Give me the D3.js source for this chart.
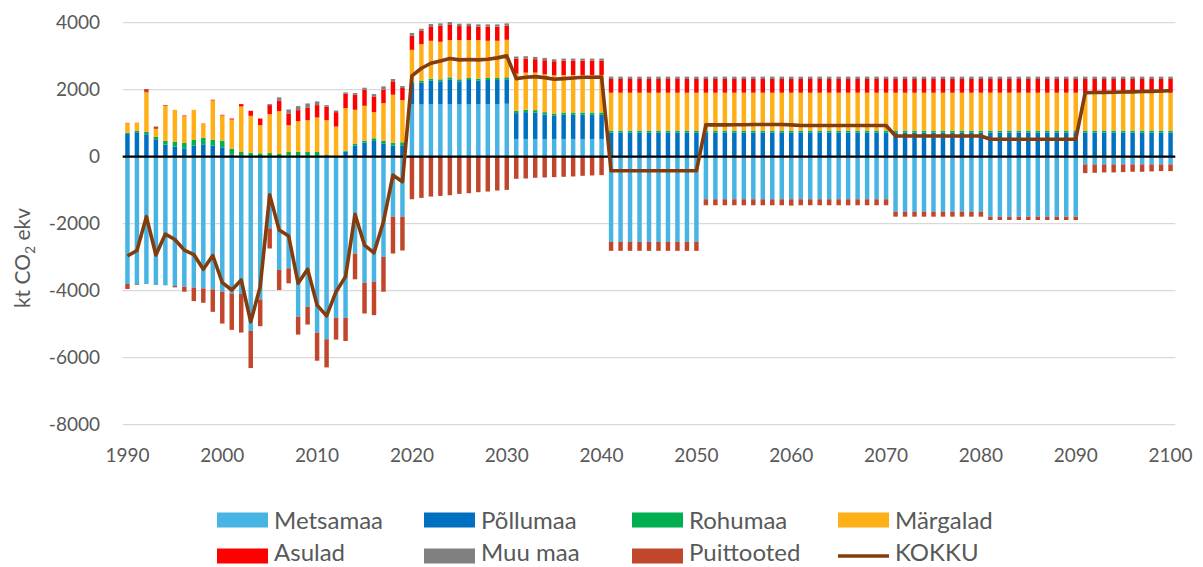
<!DOCTYPE html>
<html><head><meta charset="utf-8">
<script src="https://cdn.jsdelivr.net/npm/d3@7"></script>
<style>
body{margin:0;background:#fff}
svg{display:block}
text{font-family:Lato,"Open Sans",sans-serif;fill:#595959}
</style>
</head><body>
<svg id="chart" width="1203" height="567"></svg>
<script>
// ---- DATA (kt CO2 ekv), years 1990..2100 ----
const years = d3.range(1990, 2101);
const xTickYears = [1990,2000,2010,2020,2030,2040,2050,2060,2070,2080,2090,2100];
const yTickValues = [-8000,-6000,-4000,-2000,0,2000,4000];
const yTickLabels = ["-8000","-6000","-4000","-2000","0","2000","4000"];
const seriesNames = ["Metsamaa","Põllumaa","Rohumaa","Märgalad","Asulad","Muu maa","Puittooted"];
const lineName = "KOKKU";

const metsamaa = [
 -3800,-3810,-3800,-3830,-3840,-3860,-3880,-3910,-3930,-3960,
 -4030,-4080,-4100,-5200,-4260,-2140,-3380,-3330,-4780,-4480,
 -5250,-5450,-4810,-4810,-2890,-3760,-3730,-2990,-1790,-1790,
 1560,1560,1560,1560,1560,1560,1560,1560,1560,1560,
 1580,530,530,530,530,530,530,530,530,530,
 530,-2540,-2540,-2540,-2540,-2540,-2540,-2540,-2540,-2540,
 -2540,-1270,-1270,-1270,-1270,-1270,-1270,-1270,-1270,-1270,
 -1270,-1270,-1270,-1270,-1270,-1270,-1270,-1270,-1270,-1270,
 -1270,-1640,-1640,-1640,-1640,-1640,-1640,-1640,-1640,-1640,
 -1640,-1790,-1790,-1790,-1790,-1790,-1790,-1790,-1790,-1790,
 -1790,-230,-230,-230,-230,-230,-230,-230,-230,-230,
 -230];
const pollumaa = [
 680,730,670,520,360,300,250,330,370,330,
 280,60,40,20,10,10,10,30,10,10,
 10,10,10,150,330,420,470,400,330,340,
 630,650,710,690,750,690,730,710,730,730,
 730,770,800,790,730,690,720,720,720,720,
 720,720,720,720,720,720,720,720,720,720,
 720,720,720,720,720,720,720,720,720,720,
 720,720,720,720,720,720,720,720,720,720,
 720,720,720,720,720,720,720,720,720,720,
 720,720,720,720,720,720,720,720,720,720,
 720,720,720,720,720,720,720,720,720,720,
 720];
const rohumaa = [
 40,40,70,70,110,150,160,170,190,170,
 200,180,100,100,90,100,70,110,140,130,
 130,40,10,30,50,60,80,80,90,90,
 50,50,60,60,60,60,60,60,60,60,
 60,70,70,70,70,70,70,70,70,70,
 70,60,60,60,60,60,60,60,60,60,
 60,60,60,60,60,60,60,60,60,60,
 60,60,60,60,60,60,60,60,60,60,
 60,60,60,60,60,60,60,60,60,60,
 60,60,60,60,60,60,60,60,60,60,
 60,60,60,60,60,60,60,60,60,60,
 60];
const margalad = [
 280,250,1180,240,1050,950,800,900,420,1180,
 750,870,1360,1100,840,1160,1280,800,910,950,
 1030,1040,880,1270,1020,1040,780,1120,1430,1260,
 950,1100,1130,1120,1110,1170,1130,1150,1110,1110,
 1120,1110,1110,1120,1130,1140,1120,1120,1120,1120,
 1120,1130,1130,1130,1130,1130,1130,1130,1130,1130,
 1130,1130,1130,1130,1130,1130,1130,1130,1130,1130,
 1130,1130,1130,1130,1130,1130,1130,1130,1130,1130,
 1130,1130,1130,1130,1130,1130,1130,1130,1130,1130,
 1130,1130,1130,1130,1130,1130,1130,1130,1130,1130,
 1130,1130,1130,1130,1130,1130,1130,1130,1130,1130,
 1130];
const asulad = [
 10,0,0,0,20,0,20,0,10,20,
 20,30,70,150,200,270,310,350,330,370,
 370,400,430,430,450,480,470,400,400,360,
 420,400,430,480,470,420,420,400,420,420,
 420,440,420,400,420,420,430,430,430,430,
 430,410,410,410,410,410,410,410,410,410,
 410,410,410,410,410,410,410,410,410,410,
 410,410,410,410,410,410,410,410,410,410,
 410,410,410,410,410,410,410,410,410,410,
 410,410,410,410,410,410,410,410,410,410,
 410,410,410,410,410,410,410,410,410,410,
 410];
const muuMaa = [
 0,0,0,0,0,0,0,0,0,0,
 0,0,0,0,0,30,100,120,120,130,
 110,50,50,40,50,60,70,100,70,60,
 80,60,70,70,70,70,70,70,70,70,
 70,70,70,70,70,60,60,60,60,60,
 60,70,70,70,70,70,70,70,70,70,
 70,70,70,70,70,70,70,70,70,70,
 70,70,70,70,70,70,70,70,70,70,
 70,70,70,70,70,70,70,70,70,70,
 70,70,70,70,70,70,70,70,70,70,
 70,70,70,70,70,70,70,70,70,70,
 70];
const puittooted = [
 -150,-20,100,70,0,-40,-150,-400,-430,-670,
 -950,-1090,-1150,-1110,-800,-600,-600,-450,-530,-530,
 -840,-840,-650,-690,-770,-920,-1000,-1040,-1100,-1010,
 -1270,-1230,-1190,-1170,-1150,-1110,-1090,-1060,-1040,-1010,
 -990,-660,-650,-630,-620,-610,-600,-590,-570,-560,
 -550,-270,-270,-270,-270,-270,-270,-270,-270,-270,
 -270,-180,-180,-180,-180,-180,-180,-180,-180,-180,
 -190,-180,-180,-180,-180,-180,-180,-180,-180,-180,
 -180,-150,-150,-150,-150,-150,-150,-150,-150,-150,
 -150,-100,-100,-100,-100,-100,-100,-100,-100,-100,
 -100,-260,-250,-240,-240,-230,-220,-220,-210,-200,
 -200];
const kokku = [
 -2965,-2800,-1790,-2935,-2310,-2470,-2790,-2920,-3360,-2950,
 -3760,-3980,-3680,-4930,-3880,-1140,-2190,-2370,-3780,-3360,
 -4430,-4750,-4030,-3580,-1720,-2640,-2870,-1940,-550,-750,
 2410,2640,2790,2860,2930,2890,2900,2890,2910,2950,
 3010,2330,2370,2390,2360,2310,2330,2350,2370,2370,
 2380,-420,-420,-420,-420,-420,-420,-420,-420,-420,
 -420,950,950,950,955,955,960,960,960,960,
 950,930,930,930,930,930,930,930,930,930,
 930,620,620,620,620,620,620,620,620,620,
 620,520,520,520,520,520,520,520,520,520,
 520,1910,1915,1920,1925,1930,1935,1945,1950,1960,
 1970];

const colors = ["#47B4E4","#0070C0","#00B050","#FFB016","#FF0000","#808080","#C0462C"];
const lineColor = "#843C0C";

// ---- build table ----
const seriesArrays = [metsamaa,pollumaa,rohumaa,margalad,asulad,muuMaa,puittooted];
const table = years.map((yr,i)=>{
  const row = {year: yr};
  seriesNames.forEach((n,k)=> row[n] = seriesArrays[k][i]);
  return row;
});

const svg = d3.select("#chart");
const pLeft = 122.7, pRight = 1175.3, pTop = 22.7, pBottom = 424.7;

const x = d3.scaleBand().domain(years).range([pLeft,pRight]).paddingInner(0.53).paddingOuter(0.265);
const y = d3.scaleLinear().domain([-8000,4000]).range([pBottom,pTop]);

// gridlines
svg.append("g").selectAll("line")
  .data(yTickValues.filter(v=>v!==0))
  .join("line")
  .attr("x1",pLeft).attr("x2",pRight)
  .attr("y1",d=>y(d)).attr("y2",d=>y(d))
  .attr("stroke","#D9D9D9").attr("stroke-width",1.3);

// stacked bars
const stack = d3.stack().keys(seriesNames).offset(d3.stackOffsetDiverging);
const layers = stack(table);
svg.append("g").selectAll("g")
  .data(layers)
  .join("g")
  .attr("fill",(d,i)=>colors[i])
  .selectAll("rect")
  .data(d=>d)
  .join("rect")
  .attr("x",d=>x(d.data.year))
  .attr("width",x.bandwidth())
  .attr("y",d=>y(Math.max(d[0],d[1])))
  .attr("height",d=>Math.abs(y(d[0])-y(d[1])));

// zero axis line
svg.append("line")
  .attr("x1",pLeft).attr("x2",pRight)
  .attr("y1",y(0)).attr("y2",y(0))
  .attr("stroke","#000").attr("stroke-width",2.2);

// KOKKU line
const line = d3.line()
  .x((d,i)=>x(years[i]) + x.bandwidth()/2)
  .y(d=>y(d));
svg.append("path")
  .datum(kokku)
  .attr("d",line)
  .attr("fill","none")
  .attr("stroke",lineColor)
  .attr("stroke-width",3.6)
  .attr("stroke-linejoin","round");

// y axis labels
svg.append("g").selectAll("text")
  .data(yTickValues)
  .join("text")
  .attr("x",100).attr("y",d=>y(d))
  .attr("dy","0.35em")
  .attr("text-anchor","end")
  .style("font-size","19px")
  .text((d,i)=>yTickLabels[i]);

// x axis labels
svg.append("g").selectAll("text")
  .data(xTickYears)
  .join("text")
  .attr("x",d=>x(d)+x.bandwidth()/2)
  .attr("y",462)
  .attr("text-anchor","middle")
  .style("font-size","19px")
  .text(d=>d);

// y axis title
const yt = svg.append("text")
  .attr("transform","translate(30,258) rotate(-90)")
  .attr("text-anchor","middle")
  .style("font-size","21px");
yt.append("tspan").text("kt CO");
yt.append("tspan").attr("dy","5").style("font-size","14px").text("2");
yt.append("tspan").attr("dy","-5").text(" ekv");

// legend
const legendItems = seriesNames.map((n,i)=>({name:n,color:colors[i],type:"rect"}))
  .concat([{name:lineName,color:lineColor,type:"line"}]);
const colX = [217,424,632,838];
const rowY = [520,556];
const textBase = [528.5,561];
const lg = svg.append("g").selectAll("g")
  .data(legendItems)
  .join("g")
  .attr("transform",(d,i)=>`translate(${colX[i%4]},0)`);
lg.filter(d=>d.type==="rect").append("rect")
  .attr("x",0).attr("y",(d,i)=>rowY[Math.floor(legendItems.indexOf(d)/4)]-7.5)
  .attr("width",51).attr("height",15)
  .attr("fill",d=>d.color);
lg.filter(d=>d.type==="line").append("line")
  .attr("x1",0).attr("x2",51)
  .attr("y1",rowY[1]).attr("y2",rowY[1])
  .attr("stroke",d=>d.color).attr("stroke-width",3.6);
lg.append("text")
  .attr("x",57)
  .attr("y",d=>textBase[Math.floor(legendItems.indexOf(d)/4)])
  .style("font-size","24px")
  .text(d=>d.name);
</script>
</body></html>
